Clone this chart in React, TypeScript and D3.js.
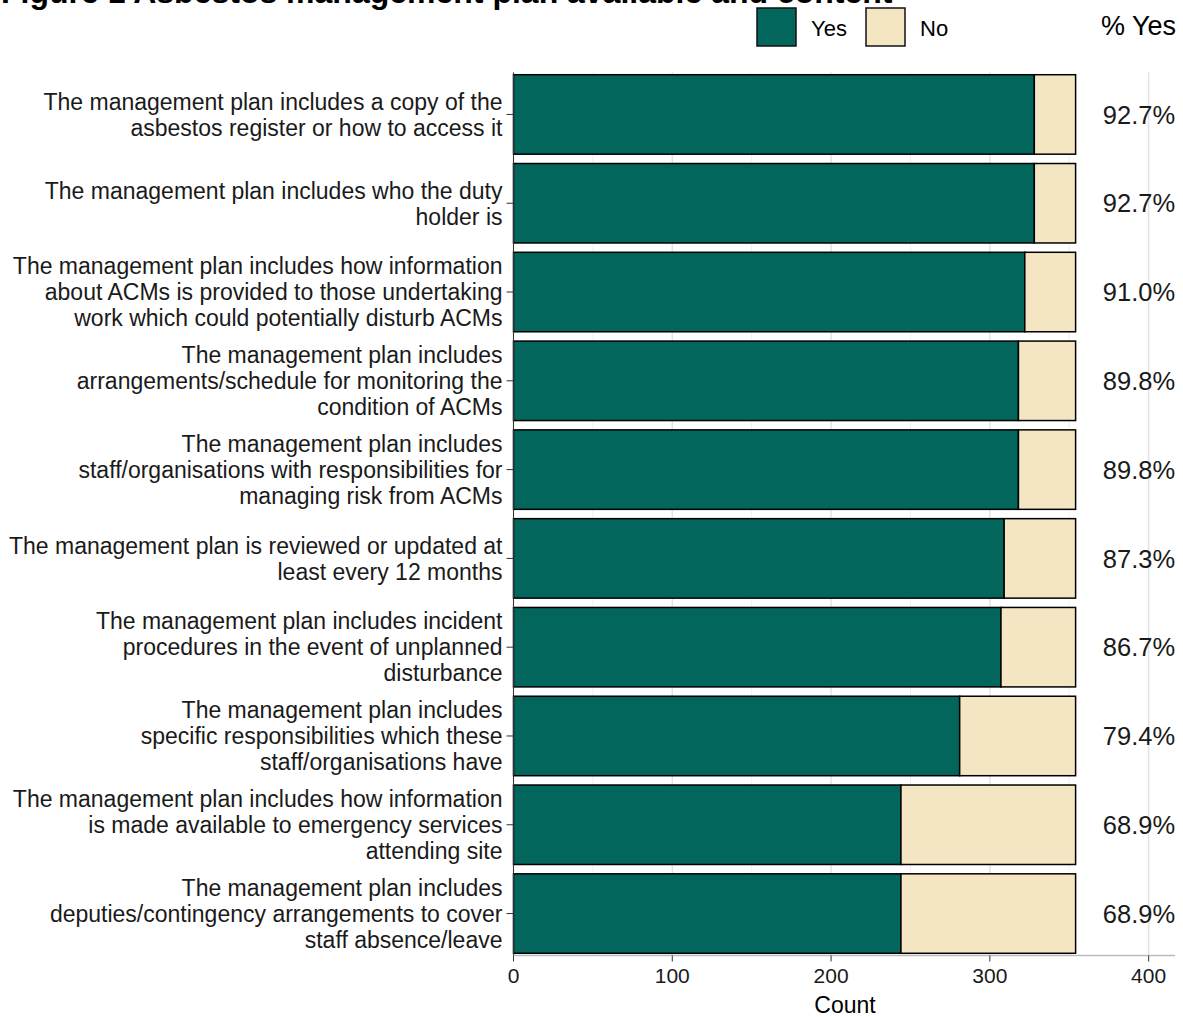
import React from "react";
import * as d3 from "d3";

const categories: string[][] = [
  ["The management plan includes a copy of the", "asbestos register or how to access it"],
  ["The management plan includes who the duty", "holder is"],
  ["The management plan includes how information", "about ACMs is provided to those undertaking", "work which could potentially disturb ACMs"],
  ["The management plan includes", "arrangements/schedule for monitoring the", "condition of ACMs"],
  ["The management plan includes", "staff/organisations with responsibilities for", "managing risk from ACMs"],
  ["The management plan is reviewed or updated at", "least every 12 months"],
  ["The management plan includes incident", "procedures in the event of unplanned", "disturbance"],
  ["The management plan includes", "specific responsibilities which these", "staff/organisations have"],
  ["The management plan includes how information", "is made available to emergency services", "attending site"],
  ["The management plan includes", "deputies/contingency arrangements to cover", "staff absence/leave"],
];
const yesCounts = [328, 328, 322, 318, 318, 309, 307, 281, 244, 244];
const noCounts = [26, 26, 32, 36, 36, 45, 47, 73, 110, 110];
const xTicks = [0, 100, 200, 300, 400];
const xMinor = [50, 150, 250, 350];
const legendItems = ["Yes", "No"];

const YES = "#03665d";
const NO = "#f5e6c3";
const FONT = "'Liberation Sans', Arial, sans-serif";

export default function App() {
  const W = 1183, H = 1017;
  const left = 513.5, right = 1175, top = 72.5, bottom = 955.5;
  const x = d3.scaleLinear().domain([0, 416.6]).range([left, right]);
  const y = d3.scaleBand<number>().domain(d3.range(categories.length)).range([top, bottom]).paddingInner(0.105).paddingOuter(0.025);
  const lineH = 26;
  return (
    <div style={{ position: "absolute", left: 0, top: 0 }}>
      <svg width={W} height={H} style={{ display: "block", fontFamily: FONT }}>
        <rect x={0} y={0} width={W} height={H} fill="#fff" />
        <text x={1} y={3} fontSize={32} fontWeight="bold" fill="#000">Figure 1 Asbestos management plan available and content</text>
        {/* grid */}
        {xMinor.map((t) => (
          <line key={"m" + t} x1={x(t)} x2={x(t)} y1={top} y2={bottom} stroke="#f0f0f0" strokeWidth={1} />
        ))}
        {xTicks.map((t) => (
          <line key={"g" + t} x1={x(t)} x2={x(t)} y1={top} y2={bottom} stroke="#e3e3e3" strokeWidth={1.5} />
        ))}
        {/* bars */}
        {categories.map((c, i) => {
          const yy = y(i)!;
          const bh = y.bandwidth();
          const cy = yy + bh / 2;
          return (
            <g key={i}>
              <rect x={x(0)} y={yy} width={x(yesCounts[i]) - x(0)} height={bh} fill={YES} stroke="#000" strokeWidth={1.5} />
              <rect x={x(yesCounts[i])} y={yy} width={x(yesCounts[i] + noCounts[i]) - x(yesCounts[i])} height={bh} fill={NO} stroke="#000" strokeWidth={1.5} />
              <line x1={left - 7} x2={left} y1={cy} y2={cy} stroke="#333" strokeWidth={1} />
              {c.map((ln, k) => (
                <text key={k} x={left - 11} y={cy + (k - (c.length - 1) / 2) * lineH} dy="0.36em" textAnchor="end" fontSize={23} fill="#1a1a1a">{ln}</text>
              ))}
              <text x={1139} y={cy} dy="0.36em" textAnchor="middle" fontSize={25.5} fill="#1a1a1a">
                {((yesCounts[i] / (yesCounts[i] + noCounts[i])) * 100).toFixed(1) + "%"}
              </text>
            </g>
          );
        })}
        {/* axes */}
        <line x1={left} x2={left} y1={top} y2={bottom} stroke="#333" strokeWidth={1} />
        <line x1={left} x2={right} y1={bottom} y2={bottom} stroke="#bbb" strokeWidth={1.5} />
        {xTicks.map((t) => (
          <g key={"t" + t}>
            <line x1={x(t)} x2={x(t)} y1={bottom} y2={bottom + 6} stroke="#333" />
            <text x={x(t)} y={bottom + 20} dy="0.36em" textAnchor="middle" fontSize={21} fill="#1a1a1a">{t}</text>
          </g>
        ))}
        <text x={845} y={1005} dy="0.36em" textAnchor="middle" fontSize={23} fill="#000">Count</text>
        {/* legend */}
        {legendItems.map((l, i) => {
          const lx = i === 0 ? 757 : 866;
          return (
            <g key={l}>
              <rect x={lx} y={8} width={39} height={38} fill={i === 0 ? YES : NO} stroke="#111" strokeWidth={1.5} />
              <text x={lx + 54} y={28} dy="0.36em" fontSize={22} fill="#000">{l}</text>
            </g>
          );
        })}
        <text x={1176} y={25} dy="0.36em" textAnchor="end" fontSize={27} fill="#000">% Yes</text>
      </svg>
    </div>
  );
}
